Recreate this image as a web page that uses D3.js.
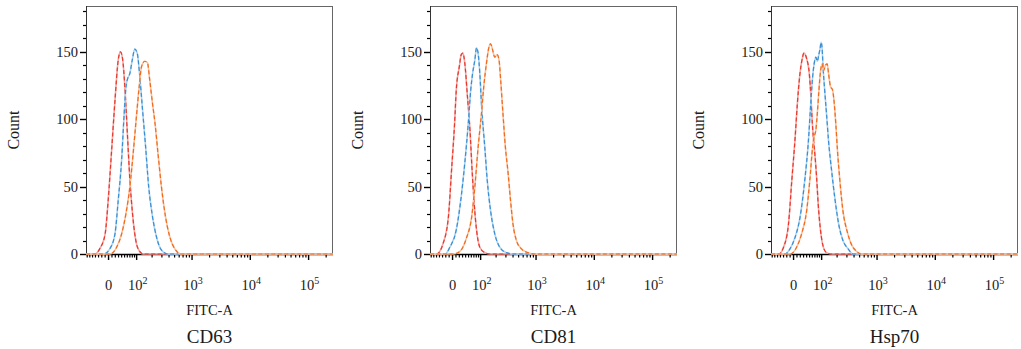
<!DOCTYPE html>
<html>
<head>
<meta charset="utf-8">
<script src="https://cdn.jsdelivr.net/npm/d3@7"></script>
<style>
  body { margin: 0; background: #fff; }
  svg text { font-family: "Liberation Serif", "DejaVu Serif", serif; fill: #1a1a1a; }
</style>
</head>
<body>
<div id="chart"></div>
<script>
// ---- data (FITC-A intensity, count) ----
const panelTitles = ['CD63', 'CD81', 'Hsp70'];
const yMajorTicks = [0, 50, 100, 150];
const yMinorTicks = [10, 20, 30, 40, 60, 70, 80, 90, 110, 120, 130, 140, 160, 170, 180];
const xMajorTicks = [0, 100, 1000, 10000, 100000];
const xTickBase = ['0', '10', '10', '10', '10'];
const xTickExp = ['', '2', '3', '4', '5'];

const cd63Red = [[-75,0],[-42,0],[-26,4],[-10,15],[-1,40],[9,77],[19,114],[29,144],[36,150],[43,145],[51,124],[60,90],[70,55],[81,30],[91,15],[107,4],[136,0],[262144,0]];
const cd63Blue = [[-75,0],[-15,0],[4,4],[19,15],[29,40],[40,70],[48,102],[55,124],[61,130],[70,134],[81,145],[91,152],[103,149],[116,132],[132,107],[151,80],[173,50],[203,28],[239,13],[294,3],[385,0],[262144,0]];
const cd63Orange = [[-75,0],[4,0],[24,5],[40,15],[55,30],[70,50],[84,75],[99,102],[113,124],[126,139],[146,143],[164,142],[181,129],[203,112],[226,97],[255,75],[294,50],[346,28],[411,13],[501,4],[655,0],[262144,0]];

const cd81Red = [[-75,0],[-50,0],[-28,8],[-12,28],[-3,62],[6,97],[11,122],[20,139],[26,148],[31,149],[37,142],[46,117],[55,92],[63,62],[71,38],[81,18],[96,5],[122,1],[153,0],[262144,0]];
const cd81Blue = [[-75,0],[-22,0],[-8,5],[11,18],[26,43],[37,67],[49,97],[58,122],[65,134],[74,144],[81,153],[88,149],[96,134],[105,109],[122,79],[136,55],[158,32],[189,15],[233,5],[306,1],[400,0],[262144,0]];
const cd81Orange = [[-75,0],[2,0],[22,2],[43,12],[61,27],[74,50],[88,79],[104,104],[116,124],[132,142],[146,153],[158,156],[171,152],[189,146],[208,148],[226,144],[242,129],[266,104],[294,79],[328,60],[361,40],[400,22],[458,10],[555,4],[725,1],[930,0],[262144,0]];

const hsp70Red = [[-75,0],[-46,0],[-30,5],[-15,22],[-5,55],[4,84],[11,111],[19,134],[26,145],[31,149],[40,145],[49,134],[55,116],[60,97],[66,82],[70,74],[77,57],[84,37],[95,17],[107,6],[126,1],[158,0],[262144,0]];
const hsp70Blue = [[-75,0],[-26,0],[-10,4],[4,12],[19,27],[34,55],[46,84],[54,111],[61,131],[67,141],[74,146],[80,143],[87,148],[91,151],[98,157],[103,151],[107,139],[116,121],[126,104],[138,84],[158,62],[181,42],[214,22],[255,10],[313,4],[385,0],[262144,0]];
const hsp70Orange = [[-75,0],[-10,0],[9,5],[24,15],[40,32],[51,55],[61,79],[67,87],[74,92],[80,104],[87,121],[95,136],[103,141],[110,136],[120,140],[130,141],[138,134],[151,124],[164,122],[173,116],[189,97],[203,77],[224,55],[255,32],[302,17],[361,7],[441,2],[535,0],[262144,0]];

const panelData = [
  [cd63Red, cd63Blue, cd63Orange],
  [cd81Red, cd81Blue, cd81Orange],
  [hsp70Red, hsp70Blue, hsp70Orange]
];

const strokeDark = ['#e5382b', '#3a8dd0', '#f06a1e'];
const strokeLight = ['#f5a6a3', '#acd4f1', '#f9c29e'];

// ---- layout ----
const width = 1021, height = 349;
const panelLeft = [86, 430, 771];
const pw = 247, plotTop = 6, plotBottom = 254;
const X_MIN = -75, X_MAX = 262144, COF = 74;

const svg = d3.select('#chart').append('svg')
  .attr('width', width)
  .attr('height', height);

const ax = d3.scaleLinear()
  .domain([Math.asinh(X_MIN / COF), Math.asinh(X_MAX / COF)])
  .range([0, pw]);
const xPos = v => ax(Math.asinh(v / COF));

const y = d3.scaleLinear().domain([0, 184]).range([plotBottom, plotTop]);

// minor x ticks: linear part around zero, then 2..9 per decade
let xMinorTicks = [];
for (let i = 1; i <= 7; i++) xMinorTicks.push(-10 * i);
for (let i = 1; i <= 9; i++) xMinorTicks.push(10 * i);
[100, 1000, 10000].forEach(d => { for (let i = 2; i <= 9; i++) xMinorTicks.push(d * i); });
xMinorTicks.push(200000);

const line = d3.line()
  .x(d => xPos(d[0]))
  .y(d => y(d[1]))
  .curve(d3.curveMonotoneX);

panelData.forEach((series, p) => {
  const g = svg.append('g').attr('transform', `translate(${panelLeft[p]},0)`);

  // frame
  g.append('rect')
    .attr('x', 0.5).attr('y', plotTop + 0.5)
    .attr('width', pw - 1).attr('height', plotBottom - plotTop)
    .attr('fill', 'none').attr('stroke', '#666').attr('stroke-width', 1);

  // y axis
  g.append('line').attr('x1', 0.5).attr('x2', 0.5).attr('y1', plotTop).attr('y2', plotBottom)
    .attr('stroke', '#333');
  g.selectAll('.ymin').data(yMinorTicks).enter().append('line')
    .attr('x1', -3).attr('x2', 0).attr('y1', d => Math.round(y(d)) + 0.5).attr('y2', d => Math.round(y(d)) + 0.5)
    .attr('stroke', '#000').attr('stroke-width', 1.2);
  g.selectAll('.ymaj').data(yMajorTicks).enter().append('line')
    .attr('x1', -6).attr('x2', 0).attr('y1', d => Math.round(y(d)) + 0.5).attr('y2', d => Math.round(y(d)) + 0.5)
    .attr('stroke', '#000').attr('stroke-width', 1.4);
  g.selectAll('.ylab').data(yMajorTicks).enter().append('text')
    .attr('x', -8).attr('y', d => y(d)).attr('dy', '0.35em')
    .attr('text-anchor', 'end').attr('font-size', 14.5)
    .text(d => d);

  // x axis
  g.append('line').attr('x1', 0).attr('x2', pw).attr('y1', plotBottom + 0.5).attr('y2', plotBottom + 0.5)
    .attr('stroke', '#000').attr('stroke-width', 1.4);
  g.selectAll('.xmin').data(xMinorTicks).enter().append('line')
    .attr('x1', d => xPos(d)).attr('x2', d => xPos(d))
    .attr('y1', plotBottom).attr('y2', plotBottom + 3.5)
    .attr('stroke', '#000').attr('stroke-width', 1.2);
  g.selectAll('.xmaj').data(xMajorTicks).enter().append('line')
    .attr('x1', d => xPos(d)).attr('x2', d => xPos(d))
    .attr('y1', plotBottom).attr('y2', plotBottom + 6)
    .attr('stroke', '#000').attr('stroke-width', 1.4);
  const xl = g.selectAll('.xlab').data(xMajorTicks).enter().append('text')
    .attr('x', d => xPos(d) + (d === 0 ? 0 : 1))
    .attr('y', 290)
    .attr('text-anchor', 'middle').attr('font-size', 14.5);
  xl.append('tspan').text((d, i) => xTickBase[i]);
  xl.append('tspan').attr('font-size', 10).attr('dy', -6).text((d, i) => xTickExp[i]);

  // histograms: light solid line under a darker dashed line
  series.forEach((data, s) => {
    g.append('path').datum(data)
      .attr('d', line).attr('fill', 'none')
      .attr('stroke', strokeLight[s]).attr('stroke-width', 1.6);
    g.append('path').datum(data)
      .attr('d', line).attr('fill', 'none')
      .attr('stroke', strokeDark[s]).attr('stroke-width', 1.2)
      .attr('stroke-dasharray', '4,2.5');
  });

  // labels
  g.append('text').attr('x', pw / 2).attr('y', 315)
    .attr('text-anchor', 'middle').attr('font-size', 14.5).text('FITC-A');
  g.append('text').attr('x', pw / 2).attr('y', 343)
    .attr('text-anchor', 'middle').attr('font-size', 19).text(panelTitles[p]);
  g.append('text')
    .attr('transform', `translate(${-73},${(plotTop + plotBottom) / 2}) rotate(-90)`)
    .attr('dy', '0.35em')
    .attr('text-anchor', 'middle').attr('font-size', 16).text('Count');
});
</script>
</body>
</html>
